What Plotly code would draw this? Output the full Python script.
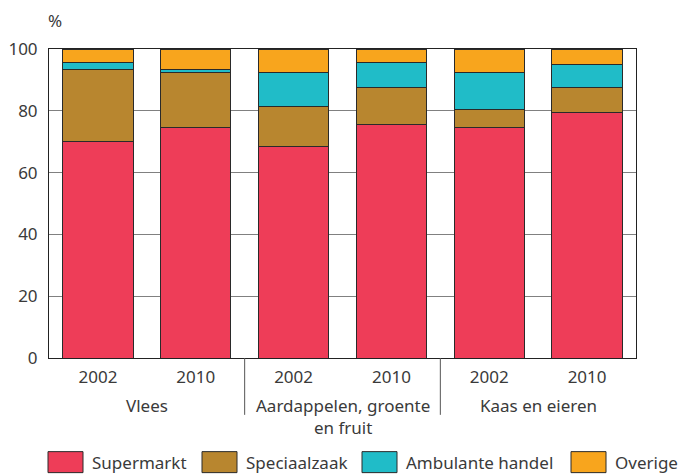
import plotly.graph_objects as go

group_labels = ["Vlees", "Aardappelen, groente<br>en fruit", "Kaas en eieren"]
years = ["2002", "2010", "2002", "2010", "2002", "2010"]
categories = ["Vlees 2002", "Vlees 2010", "AGF 2002", "AGF 2010", "Kaas 2002", "Kaas 2010"]

supermarkt = [70, 74.5, 68.5, 75.5, 74.5, 79.5]
speciaalzaak = [23.5, 18, 13, 12, 6, 8]
ambulante = [2, 1, 11, 8, 12, 7.5]
overige = [4.5, 6.5, 7.5, 4.5, 7.5, 5]

series = [
    ("Supermarkt", supermarkt, "#EE3D58"),
    ("Speciaalzaak", speciaalzaak, "#B8862F"),
    ("Ambulante handel", ambulante, "#20BCC8"),
    ("Overige", overige, "#F8A51D"),
]

y_ticks = [0, 20, 40, 60, 80, 100]

FONT = "Noto Sans"
TXT = "#3a3a3a"
FS = 17

W, H = 678, 476
ML, MR, MT, MB = 49, 42, 49, 118
PW = W - ML - MR

fig = go.Figure()
for name, vals, col in series:
    fig.add_trace(go.Bar(
        x=categories, y=vals, name=name,
        marker=dict(color=col, line=dict(color="#2a2a2a", width=1)),
        width=0.72, showlegend=False, hoverinfo="skip",
    ))

fig.update_layout(
    barmode="stack",
    width=W, height=H,
    margin=dict(l=ML, r=MR, t=MT, b=MB, autoexpand=False),
    plot_bgcolor="white", paper_bgcolor="white",
    font=dict(family=FONT, size=FS, color=TXT),
    showlegend=False,
)
fig.update_xaxes(
    tickvals=categories, ticktext=years, automargin=False,
    showline=True, linecolor="#222222", linewidth=1, mirror=True,
    showgrid=False, ticks="", tickfont=dict(size=FS, color=TXT),
    ticklabelstandoff=4,
    range=[-0.5, 5.5],
)
fig.update_yaxes(
    range=[0, 100], tickvals=y_ticks, automargin=False,
    showline=True, linecolor="#222222", linewidth=1, mirror=True,
    showgrid=True, gridcolor="#808080", gridwidth=1,
    ticks="", tickfont=dict(size=FS, color=TXT), ticklabelstandoff=7,
    zeroline=False,
)

# group labels
for i, g in enumerate(group_labels):
    fig.add_annotation(x=2 * i + 0.5, y=0, xref="x", yref="paper",
                       yshift=-34, text=g, showarrow=False, yanchor="top",
                       font=dict(size=FS, color=TXT, family=FONT))
# group dividers
for xv in [1.5, 3.5]:
    fig.add_shape(type="line", x0=xv, x1=xv, xref="x", y0=0, y1=-0.184, yref="paper",
                  line=dict(color="#555555", width=1))

# percent sign
fig.add_annotation(x=0, y=1, xref="paper", yref="paper", text="%", showarrow=False,
                   xanchor="center", yanchor="middle", xshift=6, yshift=29,
                   font=dict(size=FS, color=TXT, family=FONT))

# custom legend (swatch left edges in px)
leg_y = -0.337
sw_x = [48, 202, 362, 571]
for (name, vals, col), x0 in zip(series, sw_x):
    px0 = (x0 - ML) / PW
    px1 = (x0 + 35 - ML) / PW
    fig.add_shape(type="rect", xref="paper", yref="paper",
                  x0=px0, x1=px1, y0=leg_y - 0.034, y1=leg_y + 0.034,
                  fillcolor=col, line=dict(color="#2a2a2a", width=1))
    fig.add_annotation(x=px1, y=leg_y, xref="paper", yref="paper", text=name,
                       showarrow=False, xanchor="left", yanchor="middle", xshift=7,
                       font=dict(size=FS, color=TXT, family=FONT))

fig.write_html(
    "out.html",
    config={"displayModeBar": False},
    post_script="document.body.style.margin='0';document.body.style.overflow='hidden';",
)
